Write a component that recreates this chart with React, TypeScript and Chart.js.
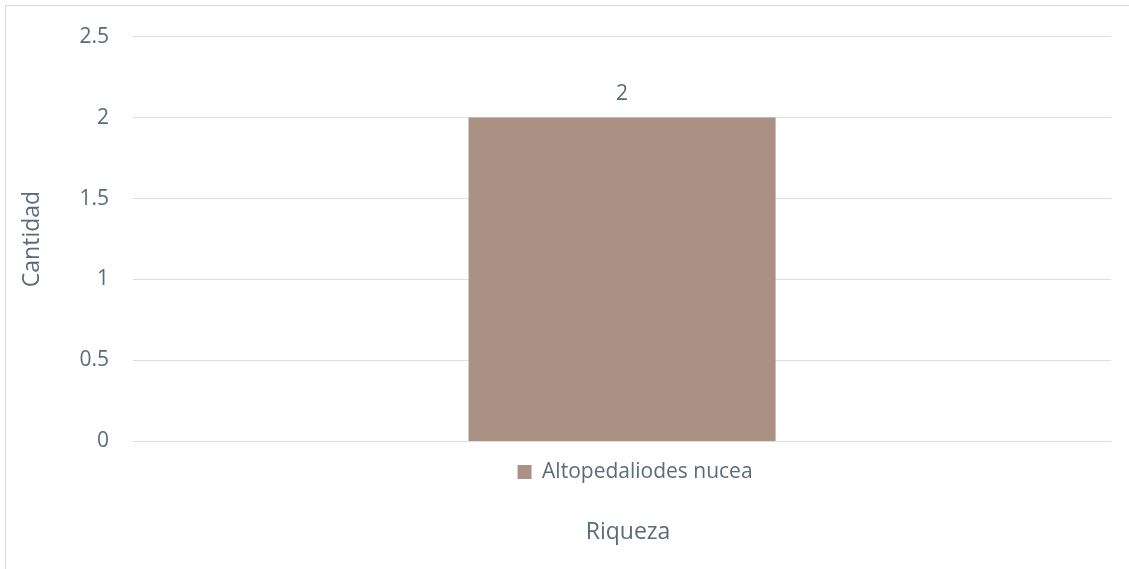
import React, { useEffect, useRef } from "react";
import { Chart, registerables } from "chart.js";

Chart.register(...registerables);

const categories: string[] = [""];
const seriesName = "Altopedaliodes nucea";
const seriesValues: number[] = [2];
const yTickMin = 0;
const yTickMax = 2.5;
const yTickStep = 0.5;
const xTitle = "Riqueza";
const yTitle = "Cantidad";

const TEXT = "#5b6b7b";
const BAR = "#ab9084";
const GRID = "#dcdfe2";
const FONT = "'Open Sans', sans-serif";

const valueLabelPlugin = {
  id: "valueLabels",
  afterDatasetsDraw(chart: any) {
    const ctx = chart.ctx;
    ctx.save();
    ctx.fillStyle = TEXT;
    ctx.font = `21px ${FONT}`;
    ctx.textAlign = "center";
    ctx.textBaseline = "bottom";
    chart.data.datasets.forEach((ds: any, i: number) => {
      const meta = chart.getDatasetMeta(i);
      meta.data.forEach((el: any, j: number) => {
        ctx.fillText(String(ds.data[j]), el.x, el.y - 13);
      });
    });
    ctx.restore();
  },
};

// Nudge the bottom legend and title slightly right, as in the original layout
const shiftPlugin = {
  id: "shiftBottomBoxes",
  afterLayout(chart: any) {
    const lg = chart.legend;
    if (lg) {
      lg.left += 13;
      lg.right += 13;
      if (typeof lg.adjustHitBoxes === "function") lg.adjustHitBoxes();
    }
    const tt = chart.titleBlock;
    if (tt) {
      tt.left += 6;
      tt.right += 6;
    }
  },
};

export default function App() {
  const ref = useRef<HTMLCanvasElement>(null);
  useEffect(() => {
    document.body.style.margin = "0";
    const chart = new Chart(ref.current!, {
      type: "bar",
      data: {
        labels: categories,
        datasets: [
          {
            label: seriesName,
            data: seriesValues,
            backgroundColor: BAR,
            borderWidth: 0,
            categoryPercentage: 1,
            barPercentage: 0.314,
          },
        ],
      },
      options: {
        animation: false,
        responsive: false,
        maintainAspectRatio: false,
        layout: { padding: { top: 26, right: 18, left: 19, bottom: 23 } },
        plugins: {
          legend: {
            position: "bottom",
            fullSize: false,
            labels: {
              color: TEXT,
              font: { family: FONT, size: 21 },
              boxWidth: 14,
              boxHeight: 14,
              padding: 12,
            },
          },
          title: {
            display: true,
            position: "bottom",
            fullSize: false,
            text: xTitle,
            color: TEXT,
            font: { family: FONT, size: 23, weight: "normal" },
            padding: { top: 26, bottom: 0 },
          },
          tooltip: { enabled: false },
        },
        scales: {
          x: {
            grid: { display: false },
            border: { display: false },
            ticks: { display: false },
          },
          y: {
            min: yTickMin,
            max: yTickMax,
            ticks: {
              stepSize: yTickStep,
              color: TEXT,
              font: { family: FONT, size: 21 },
              padding: 24,
              callback: (v: any) => String(Number(v)),
            },
            grid: { color: GRID, lineWidth: 1, drawTicks: false },
            border: { display: false },
            title: {
              display: true,
              text: yTitle,
              color: TEXT,
              font: { family: FONT, size: 23 },
              padding: { top: 0, bottom: 9 },
            },
          },
        },
      },
      plugins: [valueLabelPlugin, shiftPlugin],
    });
    return () => chart.destroy();
  }, []);
  return (
    <div style={{ position: "relative", width: 1129, height: 569 }}>
      <div
        style={{
          position: "absolute",
          left: 5,
          top: 5,
          width: 1140,
          height: 580,
          border: "1px solid #d9d9d9",
          boxSizing: "border-box",
        }}
      />
      <canvas
        ref={ref}
        width={1129}
        height={569}
        style={{ position: "absolute", left: 0, top: 0, width: 1129, height: 569 }}
      />
    </div>
  );
}
